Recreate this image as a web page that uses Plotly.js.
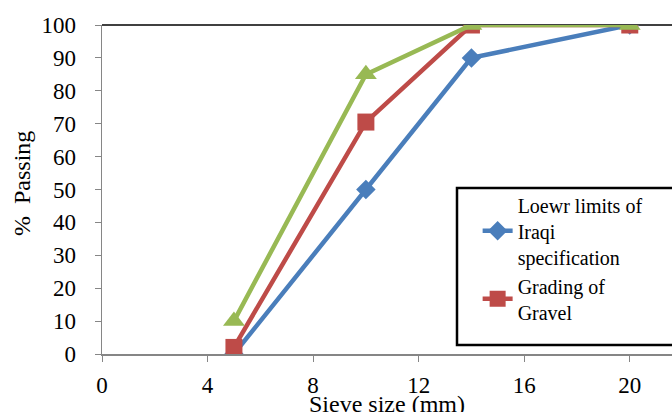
<!DOCTYPE html>
<html><head><meta charset="utf-8">
<script src="https://cdn.plot.ly/plotly-3.0.1.min.js"></script>
<style>html,body{margin:0;padding:0;background:#fff}#chart{width:672px;height:412px}</style>
</head><body><div id="chart"></div>
<script>
const sieveSizes = [5, 10, 14, 20];
const lowerLimits = [0, 50, 90, 100];
const gradingGravel = [2, 70.5, 100, 100];
const upperLimits = [10, 85, 100, 100];
const xTicks = [0, 4, 8, 12, 16, 20];
const yTicks = [0, 10, 20, 30, 40, 50, 60, 70, 80, 90, 100];
const names = ["Loewr limits of<br>Iraqi<br>specification", "Grading of<br>Gravel", "Upper limits"];

const font = "'Liberation Serif', 'Times New Roman', serif";
const traces = [
  {x: sieveSizes, y: lowerLimits, name: names[0], mode: "lines+markers",
   line: {color: "#4A7EBB", width: 4.5}, marker: {symbol: "diamond", size: 15, color: "#4A7EBB"}},
  {x: sieveSizes, y: gradingGravel, name: names[1], mode: "lines+markers",
   line: {color: "#BE4B48", width: 4.5}, marker: {symbol: "square", size: 17, color: "#BE4B48"}},
  {x: sieveSizes, y: upperLimits, name: names[2], mode: "lines+markers", showlegend: false,
   line: {color: "#98B954", width: 4.5}, marker: {symbol: "triangle-up", size: 19, color: "#98B954"}}
];
const layout = {
  width: 672, height: 412,
  margin: {l: 102, r: 0, t: 25, b: 58},
  paper_bgcolor: "#fff", plot_bgcolor: "#fff",
  font: {family: font, size: 22, color: "#000"},
  showlegend: true,
  xaxis: {range: [0, 21.6], tickvals: xTicks, ticktext: xTicks.map(String), showgrid: false, zeroline: false,
          showline: true, linecolor: "#868686", linewidth: 1.5, ticks: "outside", ticklen: 6, tickcolor: "#868686",
          tickfont: {family: font, size: 23, color: "#000"}, ticklabelstandoff: 4},
  yaxis: {range: [0, 100], tickvals: yTicks, showgrid: false, zeroline: false,
          showline: true, linecolor: "#868686", linewidth: 1.5, ticks: "outside", ticklen: 6, tickcolor: "#868686",
          tickfont: {family: font, size: 23, color: "#000"}, ticklabelstandoff: 14},
  legend: {x: 0.659, y: 0.513, xanchor: "left", yanchor: "top", bgcolor: "rgba(0,0,0,0)", borderwidth: 0,
           font: {family: font, size: 20, color: "#000"}, tracegroupgap: 2},
  shapes: [
    {type: "line", xref: "paper", yref: "paper", x0: 0, x1: 1, y0: 1, y1: 1, line: {color: "#000", width: 1.5}, layer: "below"},
    {type: "rect", xref: "paper", yref: "paper", x0: (457-102)/570, x1: 1.1, y0: (354-345)/329, y1: (354-188)/329,
     line: {color: "#000", width: 2.5}, fillcolor: "#fff", layer: "below"}
  ],
  annotations: [
    {text: "Sieve size (mm)", xref: "paper", yref: "paper", x: 0.5, y: -(404-354)/329, xanchor: "center", yanchor: "middle",
     showarrow: false, font: {family: font, size: 24, color: "#000"}},
    {text: "%  Passing", xref: "paper", yref: "paper", x: (22-102)/570, y: (354-184)/329, xanchor: "center", yanchor: "middle",
     textangle: -90, showarrow: false, font: {family: font, size: 24, color: "#000"}}
  ]
};
Plotly.newPlot("chart", traces, layout, {displayModeBar: false, staticPlot: true});
</script></body></html>
